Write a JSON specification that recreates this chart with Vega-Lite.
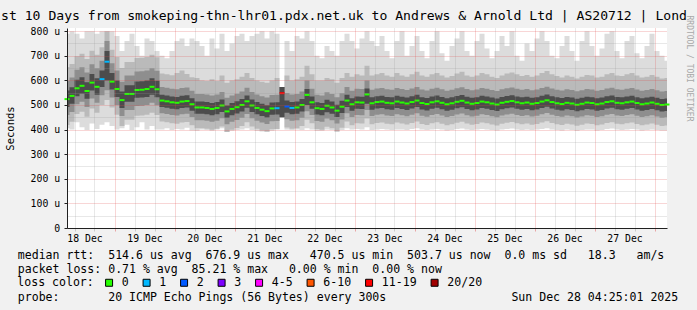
{
  "$schema": "https://vega.github.io/schema/vega-lite/v6.json",
  "width": 600,
  "height": 200,
  "autosize": {"type": "none"},
  "padding": {"left": 67, "top": 28, "right": 30, "bottom": 82},
  "background": "#f1f1f1",
  "title": {
    "text": "st 10 Days from smokeping-thn-lhr01.pdx.net.uk to Andrews & Arnold Ltd | AS20712 | Lond",
    "font": "DejaVu Sans Mono", "fontSize": 13.1, "fontWeight": "normal", "color": "#000000",
    "anchor": "middle", "frame": "group", "dx": -23, "dy": 22, "baseline": "alphabetic", "offset": 4
  },
  "config": {
    "font": "DejaVu Sans Mono",
    "view": {"stroke": null, "fill": "#ffffff"},
    "axis": {"labelFont": "DejaVu Sans Mono", "titleFont": "DejaVu Sans Mono", "labelColor": "#000000", "titleColor": "#000000", "titleFontWeight": "normal"}
  },
  "data": {"values": [
    {"t":"2025-12-18T05:00Z","l1":405,"l2":419,"l3":459,"l4":492,"h4":559,"h3":599,"h2":654,"h1":790,"m":524,"loss":"0"},
    {"t":"2025-12-18T07:00Z","l1":400,"l2":432,"l3":472,"l4":505,"h4":572,"h3":612,"h2":667,"h1":800,"m":537,"loss":"0"},
    {"t":"2025-12-18T09:00Z","l1":430,"l2":463,"l3":503,"l4":536,"h4":603,"h3":643,"h2":698,"h1":790,"m":568,"loss":"0"},
    {"t":"2025-12-18T11:00Z","l1":410,"l2":473,"l3":513,"l4":546,"h4":613,"h3":653,"h2":708,"h1":770,"m":578,"loss":"0"},
    {"t":"2025-12-18T13:00Z","l1":398,"l2":452,"l3":492,"l4":525,"h4":592,"h3":632,"h2":687,"h1":800,"m":557,"loss":"0"},
    {"t":"2025-12-18T15:00Z","l1":425,"l2":486,"l3":526,"l4":559,"h4":626,"h3":666,"h2":721,"h1":800,"m":591,"loss":"0"},
    {"t":"2025-12-18T17:00Z","l1":402,"l2":469,"l3":509,"l4":542,"h4":609,"h3":649,"h2":704,"h1":790,"m":574,"loss":"0"},
    {"t":"2025-12-18T19:00Z","l1":420,"l2":500,"l3":540,"l4":573,"h4":640,"h3":680,"h2":735,"h1":800,"m":605,"loss":"1"},
    {"t":"2025-12-18T21:00Z","l1":430,"l2":520,"l3":560,"l4":600,"h4":720,"h3":760,"h2":800,"h1":800,"m":676,"loss":"1"},
    {"t":"2025-12-18T23:00Z","l1":415,"l2":490,"l3":530,"l4":563,"h4":630,"h3":670,"h2":725,"h1":800,"m":595,"loss":"0"},
    {"t":"2025-12-19T01:00Z","l1":400,"l2":460,"l3":500,"l4":533,"h4":600,"h3":640,"h2":695,"h1":780,"m":565,"loss":"0"},
    {"t":"2025-12-19T03:00Z","l1":405,"l2":415,"l3":455,"l4":488,"h4":555,"h3":595,"h2":650,"h1":720,"m":520,"loss":"0"},
    {"t":"2025-12-19T05:00Z","l1":420,"l2":440,"l3":480,"l4":513,"h4":580,"h3":620,"h2":675,"h1":760,"m":545,"loss":"0"},
    {"t":"2025-12-19T07:00Z","l1":398,"l2":440,"l3":480,"l4":513,"h4":580,"h3":620,"h2":675,"h1":790,"m":545,"loss":"0"},
    {"t":"2025-12-19T09:00Z","l1":410,"l2":456,"l3":496,"l4":529,"h4":596,"h3":636,"h2":691,"h1":740,"m":561,"loss":"0"},
    {"t":"2025-12-19T11:00Z","l1":430,"l2":457,"l3":497,"l4":530,"h4":597,"h3":637,"h2":692,"h1":700,"m":562,"loss":"0"},
    {"t":"2025-12-19T13:00Z","l1":400,"l2":460,"l3":500,"l4":533,"h4":600,"h3":640,"h2":695,"h1":770,"m":565,"loss":"0"},
    {"t":"2025-12-19T15:00Z","l1":415,"l2":469,"l3":509,"l4":542,"h4":609,"h3":649,"h2":704,"h1":760,"m":574,"loss":"0"},
    {"t":"2025-12-19T17:00Z","l1":400,"l2":459,"l3":499,"l4":532,"h4":599,"h3":639,"h2":694,"h1":720,"m":564,"loss":"0"},
    {"t":"2025-12-19T19:00Z","l1":400,"l2":433,"l3":466,"l4":492,"h4":542,"h3":573,"h2":628,"h1":700,"m":518,"loss":"0"},
    {"t":"2025-12-19T21:00Z","l1":405,"l2":430,"l3":463,"l4":489,"h4":539,"h3":570,"h2":625,"h1":690,"m":515,"loss":"0"},
    {"t":"2025-12-19T23:00Z","l1":398,"l2":426,"l3":459,"l4":485,"h4":535,"h3":566,"h2":621,"h1":720,"m":511,"loss":"0"},
    {"t":"2025-12-20T01:00Z","l1":402,"l2":424,"l3":457,"l4":483,"h4":533,"h3":564,"h2":630,"h1":760,"m":509,"loss":"0"},
    {"t":"2025-12-20T03:00Z","l1":400,"l2":429,"l3":462,"l4":488,"h4":538,"h3":569,"h2":640,"h1":770,"m":514,"loss":"0"},
    {"t":"2025-12-20T05:00Z","l1":408,"l2":431,"l3":464,"l4":490,"h4":540,"h3":571,"h2":626,"h1":740,"m":516,"loss":"0"},
    {"t":"2025-12-20T07:00Z","l1":396,"l2":418,"l3":451,"l4":477,"h4":527,"h3":558,"h2":613,"h1":770,"m":503,"loss":"0"},
    {"t":"2025-12-20T09:00Z","l1":395,"l2":405,"l3":438,"l4":464,"h4":514,"h3":545,"h2":610,"h1":760,"m":490,"loss":"0"},
    {"t":"2025-12-20T11:00Z","l1":400,"l2":405,"l3":438,"l4":464,"h4":514,"h3":545,"h2":600,"h1":740,"m":490,"loss":"0"},
    {"t":"2025-12-20T13:00Z","l1":398,"l2":403,"l3":436,"l4":462,"h4":512,"h3":543,"h2":598,"h1":700,"m":488,"loss":"0"},
    {"t":"2025-12-20T15:00Z","l1":395,"l2":399,"l3":432,"l4":458,"h4":508,"h3":539,"h2":605,"h1":770,"m":484,"loss":"0"},
    {"t":"2025-12-20T17:00Z","l1":400,"l2":403,"l3":436,"l4":462,"h4":512,"h3":543,"h2":598,"h1":730,"m":488,"loss":"0"},
    {"t":"2025-12-20T19:00Z","l1":405,"l2":413,"l3":446,"l4":472,"h4":522,"h3":553,"h2":620,"h1":790,"m":498,"loss":"0"},
    {"t":"2025-12-20T21:00Z","l1":390,"l2":390,"l3":422,"l4":448,"h4":498,"h3":529,"h2":590,"h1":720,"m":474,"loss":"0"},
    {"t":"2025-12-20T23:00Z","l1":395,"l2":399,"l3":432,"l4":458,"h4":508,"h3":539,"h2":600,"h1":750,"m":484,"loss":"0"},
    {"t":"2025-12-21T01:00Z","l1":398,"l2":406,"l3":439,"l4":465,"h4":515,"h3":546,"h2":605,"h1":780,"m":491,"loss":"0"},
    {"t":"2025-12-21T03:00Z","l1":400,"l2":415,"l3":448,"l4":474,"h4":524,"h3":555,"h2":615,"h1":790,"m":500,"loss":"0"},
    {"t":"2025-12-21T05:00Z","l1":405,"l2":430,"l3":463,"l4":489,"h4":539,"h3":570,"h2":630,"h1":760,"m":515,"loss":"0"},
    {"t":"2025-12-21T07:00Z","l1":398,"l2":413,"l3":446,"l4":472,"h4":522,"h3":553,"h2":610,"h1":780,"m":498,"loss":"0"},
    {"t":"2025-12-21T09:00Z","l1":395,"l2":403,"l3":436,"l4":462,"h4":512,"h3":543,"h2":600,"h1":790,"m":488,"loss":"0"},
    {"t":"2025-12-21T11:00Z","l1":392,"l2":396,"l3":429,"l4":455,"h4":505,"h3":536,"h2":595,"h1":800,"m":481,"loss":"0"},
    {"t":"2025-12-21T13:00Z","l1":390,"l2":392,"l3":423,"l4":449,"h4":499,"h3":530,"h2":590,"h1":770,"m":475,"loss":"0"},
    {"t":"2025-12-21T15:00Z","l1":395,"l2":401,"l3":434,"l4":460,"h4":510,"h3":541,"h2":600,"h1":800,"m":486,"loss":"0"},
    {"t":"2025-12-21T17:00Z","l1":400,"l2":402,"l3":435,"l4":461,"h4":511,"h3":542,"h2":610,"h1":790,"m":487,"loss":"1"},
    {"t":"2025-12-21T19:00Z","l1":450,"l2":450,"l3":450,"l4":450,"h4":573,"h3":573,"h2":573,"h1":573,"m":548,"loss":"11-19"},
    {"t":"2025-12-21T21:00Z","l1":400,"l2":409,"l3":442,"l4":468,"h4":518,"h3":549,"h2":620,"h1":760,"m":494,"loss":"2"},
    {"t":"2025-12-21T23:00Z","l1":398,"l2":403,"l3":436,"l4":462,"h4":512,"h3":543,"h2":600,"h1":720,"m":488,"loss":"1"},
    {"t":"2025-12-22T01:00Z","l1":400,"l2":405,"l3":438,"l4":464,"h4":514,"h3":545,"h2":605,"h1":780,"m":490,"loss":"0"},
    {"t":"2025-12-22T03:00Z","l1":398,"l2":415,"l3":448,"l4":474,"h4":524,"h3":555,"h2":615,"h1":770,"m":500,"loss":"0"},
    {"t":"2025-12-22T05:00Z","l1":405,"l2":440,"l3":475,"l4":500,"h4":565,"h3":600,"h2":660,"h1":800,"m":541,"loss":"0"},
    {"t":"2025-12-22T07:00Z","l1":400,"l2":426,"l3":459,"l4":485,"h4":535,"h3":566,"h2":625,"h1":760,"m":511,"loss":"0"},
    {"t":"2025-12-22T09:00Z","l1":395,"l2":402,"l3":435,"l4":461,"h4":511,"h3":542,"h2":600,"h1":700,"m":487,"loss":"0"},
    {"t":"2025-12-22T11:00Z","l1":395,"l2":399,"l3":432,"l4":458,"h4":508,"h3":539,"h2":600,"h1":690,"m":484,"loss":"0"},
    {"t":"2025-12-22T13:00Z","l1":400,"l2":412,"l3":445,"l4":471,"h4":521,"h3":552,"h2":610,"h1":740,"m":497,"loss":"0"},
    {"t":"2025-12-22T15:00Z","l1":398,"l2":405,"l3":438,"l4":464,"h4":514,"h3":545,"h2":605,"h1":720,"m":490,"loss":"0"},
    {"t":"2025-12-22T17:00Z","l1":392,"l2":392,"l3":425,"l4":451,"h4":501,"h3":532,"h2":590,"h1":700,"m":477,"loss":"0"},
    {"t":"2025-12-22T19:00Z","l1":398,"l2":408,"l3":441,"l4":467,"h4":517,"h3":548,"h2":610,"h1":760,"m":493,"loss":"0"},
    {"t":"2025-12-22T21:00Z","l1":405,"l2":433,"l3":466,"l4":492,"h4":542,"h3":573,"h2":630,"h1":790,"m":518,"loss":"0"},
    {"t":"2025-12-22T23:00Z","l1":400,"l2":418,"l3":451,"l4":477,"h4":527,"h3":558,"h2":615,"h1":760,"m":503,"loss":"0"},
    {"t":"2025-12-23T01:00Z","l1":402,"l2":426,"l3":459,"l4":485,"h4":535,"h3":566,"h2":625,"h1":730,"m":511,"loss":"0"},
    {"t":"2025-12-23T03:00Z","l1":400,"l2":425,"l3":458,"l4":484,"h4":534,"h3":565,"h2":620,"h1":770,"m":510,"loss":"0"},
    {"t":"2025-12-23T05:00Z","l1":410,"l2":445,"l3":480,"l4":505,"h4":567,"h3":600,"h2":660,"h1":800,"m":543,"loss":"0"},
    {"t":"2025-12-23T07:00Z","l1":398,"l2":422,"l3":455,"l4":481,"h4":531,"h3":562,"h2":620,"h1":760,"m":507,"loss":"0"},
    {"t":"2025-12-23T09:00Z","l1":400,"l2":427,"l3":460,"l4":486,"h4":536,"h3":567,"h2":625,"h1":740,"m":512,"loss":"0"},
    {"t":"2025-12-23T11:00Z","l1":402,"l2":429,"l3":462,"l4":488,"h4":538,"h3":569,"h2":630,"h1":780,"m":514,"loss":"0"},
    {"t":"2025-12-23T13:00Z","l1":400,"l2":424,"l3":457,"l4":483,"h4":533,"h3":564,"h2":620,"h1":720,"m":509,"loss":"0"},
    {"t":"2025-12-23T15:00Z","l1":398,"l2":422,"l3":455,"l4":481,"h4":531,"h3":562,"h2":615,"h1":690,"m":507,"loss":"0"},
    {"t":"2025-12-23T17:00Z","l1":400,"l2":429,"l3":462,"l4":488,"h4":538,"h3":569,"h2":630,"h1":760,"m":514,"loss":"0"},
    {"t":"2025-12-23T19:00Z","l1":400,"l2":425,"l3":458,"l4":484,"h4":534,"h3":565,"h2":620,"h1":800,"m":510,"loss":"0"},
    {"t":"2025-12-23T21:00Z","l1":398,"l2":421,"l3":454,"l4":480,"h4":530,"h3":561,"h2":615,"h1":700,"m":506,"loss":"0"},
    {"t":"2025-12-23T23:00Z","l1":402,"l2":427,"l3":460,"l4":486,"h4":536,"h3":567,"h2":625,"h1":740,"m":512,"loss":"0"},
    {"t":"2025-12-24T01:00Z","l1":405,"l2":433,"l3":466,"l4":492,"h4":542,"h3":573,"h2":635,"h1":780,"m":518,"loss":"0"},
    {"t":"2025-12-24T03:00Z","l1":400,"l2":423,"l3":456,"l4":482,"h4":532,"h3":563,"h2":620,"h1":720,"m":508,"loss":"0"},
    {"t":"2025-12-24T05:00Z","l1":398,"l2":419,"l3":452,"l4":478,"h4":528,"h3":559,"h2":615,"h1":690,"m":504,"loss":"0"},
    {"t":"2025-12-24T07:00Z","l1":400,"l2":426,"l3":459,"l4":485,"h4":535,"h3":566,"h2":625,"h1":760,"m":511,"loss":"0"},
    {"t":"2025-12-24T09:00Z","l1":402,"l2":430,"l3":463,"l4":489,"h4":539,"h3":570,"h2":630,"h1":800,"m":515,"loss":"0"},
    {"t":"2025-12-24T11:00Z","l1":400,"l2":424,"l3":457,"l4":483,"h4":533,"h3":564,"h2":620,"h1":710,"m":509,"loss":"0"},
    {"t":"2025-12-24T13:00Z","l1":396,"l2":418,"l3":451,"l4":477,"h4":527,"h3":558,"h2":612,"h1":680,"m":503,"loss":"0"},
    {"t":"2025-12-24T15:00Z","l1":398,"l2":422,"l3":455,"l4":481,"h4":531,"h3":562,"h2":618,"h1":740,"m":507,"loss":"0"},
    {"t":"2025-12-24T17:00Z","l1":402,"l2":428,"l3":461,"l4":487,"h4":537,"h3":568,"h2":628,"h1":770,"m":513,"loss":"0"},
    {"t":"2025-12-24T19:00Z","l1":404,"l2":432,"l3":465,"l4":491,"h4":541,"h3":572,"h2":635,"h1":800,"m":517,"loss":"0"},
    {"t":"2025-12-24T21:00Z","l1":400,"l2":425,"l3":458,"l4":484,"h4":534,"h3":565,"h2":620,"h1":720,"m":510,"loss":"0"},
    {"t":"2025-12-24T23:00Z","l1":398,"l2":420,"l3":453,"l4":479,"h4":529,"h3":560,"h2":615,"h1":700,"m":505,"loss":"0"},
    {"t":"2025-12-25T01:00Z","l1":400,"l2":423,"l3":456,"l4":482,"h4":532,"h3":563,"h2":620,"h1":760,"m":508,"loss":"0"},
    {"t":"2025-12-25T03:00Z","l1":402,"l2":429,"l3":462,"l4":488,"h4":538,"h3":569,"h2":630,"h1":790,"m":514,"loss":"0"},
    {"t":"2025-12-25T05:00Z","l1":400,"l2":426,"l3":459,"l4":485,"h4":535,"h3":566,"h2":625,"h1":730,"m":511,"loss":"0"},
    {"t":"2025-12-25T07:00Z","l1":398,"l2":421,"l3":454,"l4":480,"h4":530,"h3":561,"h2":615,"h1":690,"m":506,"loss":"0"},
    {"t":"2025-12-25T09:00Z","l1":396,"l2":417,"l3":450,"l4":476,"h4":526,"h3":557,"h2":610,"h1":720,"m":502,"loss":"0"},
    {"t":"2025-12-25T11:00Z","l1":400,"l2":424,"l3":457,"l4":483,"h4":533,"h3":564,"h2":620,"h1":780,"m":509,"loss":"0"},
    {"t":"2025-12-25T13:00Z","l1":402,"l2":428,"l3":461,"l4":487,"h4":537,"h3":568,"h2":628,"h1":740,"m":513,"loss":"0"},
    {"t":"2025-12-25T15:00Z","l1":404,"l2":431,"l3":464,"l4":490,"h4":540,"h3":571,"h2":632,"h1":800,"m":516,"loss":"0"},
    {"t":"2025-12-25T17:00Z","l1":400,"l2":426,"l3":459,"l4":485,"h4":535,"h3":566,"h2":625,"h1":700,"m":511,"loss":"0"},
    {"t":"2025-12-25T19:00Z","l1":398,"l2":422,"l3":455,"l4":481,"h4":531,"h3":562,"h2":618,"h1":680,"m":507,"loss":"0"},
    {"t":"2025-12-25T21:00Z","l1":400,"l2":425,"l3":458,"l4":484,"h4":534,"h3":565,"h2":622,"h1":750,"m":510,"loss":"0"},
    {"t":"2025-12-25T23:00Z","l1":398,"l2":420,"l3":453,"l4":479,"h4":529,"h3":560,"h2":615,"h1":720,"m":505,"loss":"0"},
    {"t":"2025-12-26T01:00Z","l1":400,"l2":423,"l3":456,"l4":482,"h4":532,"h3":563,"h2":620,"h1":770,"m":508,"loss":"0"},
    {"t":"2025-12-26T03:00Z","l1":402,"l2":429,"l3":462,"l4":488,"h4":538,"h3":569,"h2":630,"h1":800,"m":514,"loss":"0"},
    {"t":"2025-12-26T05:00Z","l1":405,"l2":434,"l3":467,"l4":493,"h4":543,"h3":574,"h2":638,"h1":760,"m":519,"loss":"0"},
    {"t":"2025-12-26T07:00Z","l1":400,"l2":427,"l3":460,"l4":486,"h4":536,"h3":567,"h2":625,"h1":700,"m":512,"loss":"0"},
    {"t":"2025-12-26T09:00Z","l1":398,"l2":422,"l3":455,"l4":481,"h4":531,"h3":562,"h2":618,"h1":690,"m":507,"loss":"0"},
    {"t":"2025-12-26T11:00Z","l1":396,"l2":419,"l3":452,"l4":478,"h4":528,"h3":559,"h2":612,"h1":740,"m":504,"loss":"0"},
    {"t":"2025-12-26T13:00Z","l1":400,"l2":424,"l3":457,"l4":483,"h4":533,"h3":564,"h2":620,"h1":780,"m":509,"loss":"0"},
    {"t":"2025-12-26T15:00Z","l1":398,"l2":421,"l3":454,"l4":480,"h4":530,"h3":561,"h2":615,"h1":720,"m":506,"loss":"0"},
    {"t":"2025-12-26T17:00Z","l1":395,"l2":416,"l3":449,"l4":475,"h4":525,"h3":556,"h2":608,"h1":680,"m":501,"loss":"0"},
    {"t":"2025-12-26T19:00Z","l1":398,"l2":420,"l3":453,"l4":479,"h4":529,"h3":560,"h2":615,"h1":760,"m":505,"loss":"0"},
    {"t":"2025-12-26T21:00Z","l1":400,"l2":425,"l3":458,"l4":484,"h4":534,"h3":565,"h2":622,"h1":800,"m":510,"loss":"0"},
    {"t":"2025-12-26T23:00Z","l1":400,"l2":423,"l3":456,"l4":482,"h4":532,"h3":563,"h2":620,"h1":740,"m":508,"loss":"0"},
    {"t":"2025-12-27T01:00Z","l1":396,"l2":418,"l3":451,"l4":477,"h4":527,"h3":558,"h2":612,"h1":700,"m":503,"loss":"0"},
    {"t":"2025-12-27T03:00Z","l1":398,"l2":421,"l3":454,"l4":480,"h4":530,"h3":561,"h2":615,"h1":730,"m":506,"loss":"0"},
    {"t":"2025-12-27T05:00Z","l1":402,"l2":427,"l3":460,"l4":486,"h4":536,"h3":567,"h2":625,"h1":790,"m":512,"loss":"0"},
    {"t":"2025-12-27T07:00Z","l1":404,"l2":430,"l3":463,"l4":489,"h4":539,"h3":570,"h2":630,"h1":800,"m":515,"loss":"0"},
    {"t":"2025-12-27T09:00Z","l1":400,"l2":424,"l3":457,"l4":483,"h4":533,"h3":564,"h2":620,"h1":720,"m":509,"loss":"0"},
    {"t":"2025-12-27T11:00Z","l1":398,"l2":422,"l3":455,"l4":481,"h4":531,"h3":562,"h2":618,"h1":690,"m":507,"loss":"0"},
    {"t":"2025-12-27T13:00Z","l1":400,"l2":426,"l3":459,"l4":485,"h4":535,"h3":566,"h2":625,"h1":760,"m":511,"loss":"0"},
    {"t":"2025-12-27T15:00Z","l1":402,"l2":429,"l3":462,"l4":488,"h4":538,"h3":569,"h2":630,"h1":780,"m":514,"loss":"0"},
    {"t":"2025-12-27T17:00Z","l1":400,"l2":423,"l3":456,"l4":482,"h4":532,"h3":563,"h2":620,"h1":710,"m":508,"loss":"0"},
    {"t":"2025-12-27T19:00Z","l1":396,"l2":418,"l3":451,"l4":477,"h4":527,"h3":558,"h2":612,"h1":690,"m":503,"loss":"0"},
    {"t":"2025-12-27T21:00Z","l1":398,"l2":421,"l3":454,"l4":480,"h4":530,"h3":561,"h2":615,"h1":740,"m":506,"loss":"0"},
    {"t":"2025-12-27T23:00Z","l1":400,"l2":425,"l3":458,"l4":484,"h4":534,"h3":565,"h2":622,"h1":790,"m":510,"loss":"0"},
    {"t":"2025-12-28T01:00Z","l1":398,"l2":420,"l3":453,"l4":479,"h4":529,"h3":560,"h2":615,"h1":720,"m":505,"loss":"0"},
    {"t":"2025-12-28T03:00Z","l1":396,"l2":415,"l3":448,"l4":474,"h4":524,"h3":555,"h2":608,"h1":700,"m":500,"loss":"0"},
    {"t":"2025-12-28T05:00Z","l1":396,"l2":417,"l3":450,"l4":476,"h4":526,"h3":557,"h2":610,"h1":680,"m":502,"loss":"0"}
  ]},
  "resolve": {"axis": {"x": "independent", "y": "independent"}},
  "layer": [
    {
      "mark": {"type": "area", "interpolate": "step", "color": "#dcdcdc", "opacity": 1},
      "encoding": {
        "x": {"field": "t", "type": "temporal",
          "scale": {"type": "utc", "domain": [1766034000000, 1766898000000]},
          "axis": {
            "orient": "bottom",
            "values": [1766044800000,1766073600000,1766102400000,1766131200000,1766160000000,1766188800000,1766217600000,1766246400000,1766275200000,1766304000000,1766332800000,1766361600000,1766390400000,1766419200000,1766448000000,1766476800000,1766505600000,1766534400000,1766563200000,1766592000000,1766620800000,1766649600000,1766678400000,1766707200000,1766736000000,1766764800000,1766793600000,1766822400000,1766851200000,1766880000000],
            "labels": false,
            "grid": true, "gridDash": [1, 1], "gridOpacity": 0.45,
            "gridColor": {"condition": {"test": "utchours(datum.value) == 0", "value": "#e04848"}, "value": "#9a9a9a"},
            "ticks": true, "tickSize": 3, "tickOpacity": 0.45,
            "tickColor": {"condition": {"test": "utchours(datum.value) == 0", "value": "#e04848"}, "value": "#9a9a9a"},
            "domain": true, "domainColor": "#202020", "domainWidth": 1,
            "zindex": 1,
            "title": ["median rtt:\u00a0\u00a0514.6 us avg\u00a0\u00a0676.9 us max\u00a0\u00a0\u00a0470.5 us min\u00a0\u00a0503.7 us now\u00a0\u00a00.0 ms sd\u00a0\u00a0\u00a018.3\u00a0\u00a0\u00a0am/s", "packet loss: 0.71 % avg\u00a0\u00a085.21 % max\u00a0\u00a0\u00a00.00 % min\u00a0\u00a00.00 % now"],
            "titleFont": "DejaVu Sans Mono", "titleFontSize": 11.56, "titleFontWeight": "normal", "titleColor": "#000000",
            "titleAlign": "left", "titleBaseline": "alphabetic", "titleX": -49.7, "titleY": 30.9, "titleLineHeight": 13.8
          }
        },
        "y": {"field": "h1", "type": "quantitative",
          "scale": {"domain": [0, 813], "nice": false, "zero": false},
          "axis": {
            "values": [0,50,100,150,200,250,300,350,400,450,500,550,600,650,700,750,800],
            "labelExpr": "datum.value == 0 ? '0' : (datum.value % 100 == 0 ? datum.value + ' u' : '')",
            "labelFont": "DejaVu Sans Mono", "labelFontSize": 9.8, "labelPadding": 4.4,
            "grid": true, "gridDash": [1, 1], "gridOpacity": 0.45,
            "gridColor": {"condition": {"test": "datum.value % 100 == 0", "value": "#e04848"}, "value": "#9a9a9a"},
            "ticks": true, "tickSize": 3, "tickColor": "#202020",
            "tickOpacity": {"condition": {"test": "datum.value % 100 == 0", "value": 1}, "value": 0},
            "domain": true, "domainColor": "#202020", "domainWidth": 1,
            "zindex": 1,
            "title": "Seconds", "titleFont": "DejaVu Sans Mono", "titleFontSize": 10.5, "titleFontWeight": "normal",
            "titleAngle": -90, "titleAlign": "center", "titleBaseline": "middle", "titleX": -57, "titleY": 100
          }
        },
        "y2": {"field": "l1"}
      }
    },
    {
      "mark": {"type": "area", "interpolate": "step", "color": "#bababa", "opacity": 1},
      "encoding": {
        "x": {"field": "t", "type": "temporal",
          "scale": {"type": "utc", "domain": [1766034000000, 1766898000000]},
          "axis": {
            "orient": "bottom",
            "values": [1766059200000,1766145600000,1766232000000,1766318400000,1766404800000,1766491200000,1766577600000,1766664000000,1766750400000,1766836800000],
            "labelExpr": "utcFormat(datum.value, '%d %b')",
            "labelFont": "DejaVu Sans Mono", "labelFontSize": 9.8, "labelPadding": 5.5, "labelColor": "#000000",
            "grid": false, "ticks": false, "tickSize": 0, "domain": false,
            "title": "probe:\u00a0\u00a0\u00a0\u00a0\u00a0\u00a0\u00a020 ICMP Echo Pings (56 Bytes) every 300s\u00a0\u00a0\u00a0\u00a0\u00a0\u00a0\u00a0\u00a0\u00a0\u00a0\u00a0\u00a0\u00a0\u00a0\u00a0\u00a0\u00a0\u00a0Sun Dec 28 04:25:01 2025",
            "titleFont": "DejaVu Sans Mono", "titleFontSize": 11.56, "titleFontWeight": "normal", "titleColor": "#000000",
            "titleAlign": "left", "titleBaseline": "alphabetic", "titleX": -49.7, "titleY": 72.5
          }
        },
        "y": {"field": "h2", "type": "quantitative",
          "scale": {"domain": [0, 813], "nice": false, "zero": false},
          "axis": {
            "orient": "right", "labels": false, "ticks": false, "domain": false, "grid": false,
            "title": "RRDTOOL / TOBI OETIKER", "titleFont": "DejaVu Sans Mono", "titleFontSize": 8, "titleFontWeight": "normal",
            "titleColor": "#a8a8a8", "titleAngle": 90, "titleAlign": "left", "titleBaseline": "middle", "titleX": 21, "titleY": -13
          }
        },
        "y2": {"field": "l2"}
      }
    },
    {
      "mark": {"type": "area", "interpolate": "step", "color": "#8e8e8e", "opacity": 1},
      "encoding": {
        "x": {"field": "t", "type": "temporal", "scale": {"type": "utc", "domain": [1766034000000, 1766898000000]}, "axis": null},
        "y": {"field": "h3", "type": "quantitative", "scale": {"domain": [0, 813], "nice": false, "zero": false}, "axis": null},
        "y2": {"field": "l3"}
      }
    },
    {
      "mark": {"type": "area", "interpolate": "step", "color": "#4c4c4c", "opacity": 1},
      "encoding": {
        "x": {"field": "t", "type": "temporal", "scale": {"type": "utc", "domain": [1766034000000, 1766898000000]}, "axis": null},
        "y": {"field": "h4", "type": "quantitative", "scale": {"domain": [0, 813], "nice": false, "zero": false}, "axis": null},
        "y2": {"field": "l4"}
      }
    },
    {
      "mark": {"type": "tick", "orient": "horizontal", "size": 5, "thickness": 2, "opacity": 1},
      "encoding": {
        "x": {"field": "t", "type": "temporal", "scale": {"type": "utc", "domain": [1766034000000, 1766898000000]}, "axis": null},
        "y": {"field": "m", "type": "quantitative", "scale": {"domain": [0, 813], "nice": false, "zero": false}, "axis": null},
        "color": {"field": "loss", "type": "nominal",
          "scale": {"domain": ["0", "1", "2", "3", "4-5", "6-10", "11-19", "20/20"],
                    "range": ["#26ff00", "#00b8ff", "#0059ff", "#7e00ff", "#ff00ff", "#ff5500", "#ff0000", "#a10000"]},
          "legend": {
            "orient": "none", "legendX": -49.7, "legendY": 249, "direction": "horizontal", "columns": 8, "gridAlign": "none",
            "title": "loss color:", "titleOrient": "left", "titleFont": "DejaVu Sans Mono", "titleFontSize": 11.56,
            "titleFontWeight": "normal", "titleColor": "#000000", "titlePadding": 9,
            "labelFont": "DejaVu Sans Mono", "labelFontSize": 11.56, "labelColor": "#000000", "labelOffset": 7,
            "symbolType": "square", "symbolSize": 49, "symbolStrokeColor": "#000000", "symbolStrokeWidth": 1, "symbolOpacity": 1,
            "columnPadding": 11.5, "padding": 0
          }
        }
      }
    }
  ]
}
